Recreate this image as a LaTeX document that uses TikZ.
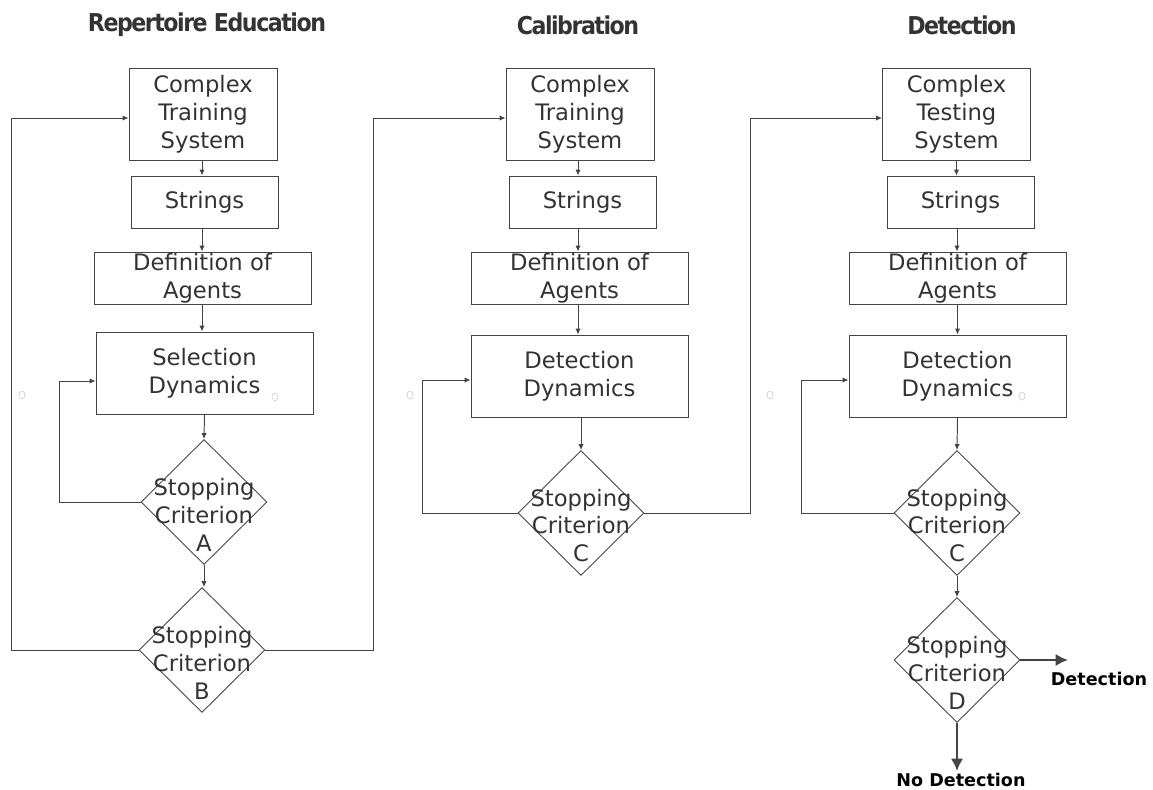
\documentclass[tikz,border=0pt]{standalone}
\usepackage{fontspec}
\setmainfont{DejaVu Sans}
\newfontfamily\titlefont{DejaVu Sans Condensed Bold}[LetterSpace=-6]
\usetikzlibrary{shapes.geometric,arrows.meta}
\definecolor{txtgray}{HTML}{333333}
\definecolor{linegray}{HTML}{444444}

\begin{document}
\begin{tikzpicture}[x=0.02cm, y=-0.02cm,
    every node/.style={text=txtgray, font=\fontsize{12.9}{15.9}\selectfont},
    box/.style={draw=linegray, line width=0.5pt, rectangle, align=center, inner sep=0pt},
    system/.style={box, minimum width=2.96cm, minimum height=1.84cm},
    strings/.style={box, minimum width=2.94cm, minimum height=1.04cm},
    agents/.style={box, minimum width=4.34cm, minimum height=1.04cm},
    dynamics/.style={box, minimum width=4.34cm, minimum height=1.64cm},
    crit/.style={diamond, draw=linegray, line width=0.5pt, minimum width=2.52cm, minimum height=2.5cm, inner sep=0pt,
        label={[align=center, yshift=-0.25cm]center:#1}},
    title/.style={font=\titlefont\fontsize{14}{16}\selectfont},
    outcome/.style={text=black, font=\bfseries\fontsize{10}{12}\selectfont},
    line/.style={draw=linegray, line width=0.55pt},
    arr/.style={line, -{Latex[length=3.4pt, width=3pt]}},
    bigarr/.style={draw=linegray, line width=1.6pt, -{Latex[length=7pt, width=7pt]}}]
    \useasboundingbox (0,0) rectangle (1153,789);

    % Repertoire Education
    \node[title] (t_rep) at (207,25) {Repertoire Education};
    \node[system] (train_rep) at (203,114) {Complex\\Training\\System};
    \node[strings] (strings_rep) at (204.5,202) {Strings};
    \node[agents] (agents_rep) at (202.5,278) {Definition of\\Agents};
    \node[dynamics] (dyn_rep) at (204.5,373) {Selection\\Dynamics};
    \node[crit={Stopping\\Criterion\\A}] (critA_rep) at (204,502) {};
    \node[crit={Stopping\\Criterion\\B}] (critB_rep) at (202,650) {};

    % Calibration
    \node[title] (t_cal) at (578,25) {Calibration};
    \node[system] (train_cal) at (580,114) {Complex\\Training\\System};
    \node[strings] (strings_cal) at (582.5,202) {Strings};
    \node[agents] (agents_cal) at (579.5,278) {Definition of\\Agents};
    \node[dynamics] (dyn_cal) at (579.5,376) {Detection\\Dynamics};
    \node[crit={Stopping\\Criterion\\C}] (critC_cal) at (581,513) {};

    % Detection
    \node[title] (t_det) at (962,25) {Detection};
    \node[system] (train_det) at (956.5,114) {Complex\\Testing\\System};
    \node[strings] (strings_det) at (960.5,202) {Strings};
    \node[agents] (agents_det) at (957.5,278) {Definition of\\Agents};
    \node[dynamics] (dyn_det) at (957.5,376) {Detection\\Dynamics};
    \node[crit={Stopping\\Criterion\\C}] (critC_det) at (957,513) {};
    \node[crit={Stopping\\Criterion\\D}] (critD_det) at (957,660) {};
    \coordinate (yes_end) at (1068,660);
    \coordinate (no_end) at (957,771);
    \node[outcome] (yes) at (1099,679) {Detection};
    \node[outcome] (no) at (961,780) {No Detection};

    % straight arrows
    \draw[arr] (train_rep.south -| 202,0) -- (strings_rep.north -| 202,0);
    \draw[arr] (strings_rep.south -| 202,0) -- (agents_rep.north -| 202,0);
    \draw[arr] (agents_rep.south -| 202,0) -- (dyn_rep.north -| 202,0);
    \draw[arr] (dyn_rep.south) -- (critA_rep.north);
    \draw[arr] (critA_rep.south) -- (critB_rep.north -| critA_rep.south);

    \draw[arr] (train_cal.south -| 578,0) -- (strings_cal.north -| 578,0);
    \draw[arr] (strings_cal.south -| 578,0) -- (agents_cal.north -| 578,0);
    \draw[arr] (agents_cal.south -| 578,0) -- (dyn_cal.north -| 578,0);
    \draw[arr] (dyn_cal.south -| critC_cal.north) -- (critC_cal.north);

    \draw[arr] (train_det.south) -- (strings_det.north -| train_det.south);
    \draw[arr] (strings_det.south -| 957,0) -- (agents_det.north -| 957,0);
    \draw[arr] (agents_det.south) -- (dyn_det.north);
    \draw[arr] (dyn_det.south) -- (critC_det.north);
    \draw[arr] (critC_det.south) -- (critD_det.north);

    % feedback loops
    \draw[arr] (critA_rep.west) -| (59,381) -- (dyn_rep.west |- 0,381);
    \draw[arr] (critB_rep.west) -| (11,118) -- (train_rep.west |- 0,118);
    \draw[arr] (critB_rep.east) -| (373,118) -- (train_cal.west |- 0,118);
    \draw[arr] (critC_cal.west) -| (422,380) -- (dyn_cal.west |- 0,380);
    \draw[arr] (critC_cal.east) -| (750,118) -- (train_det.west |- 0,118);
    \draw[arr] (critC_det.west) -| (801,380) -- (dyn_det.west |- 0,380);

    % outcomes
    \draw[bigarr] (critD_det.east) -- (yes_end);
    \draw[bigarr] (critD_det.south) -- (no_end);

    % connection marks
    \foreach \cx/\cy in {22/395, 275/397, 410/395, 770/395, 1022/396}
        \draw[gray!35, line width=0.4pt] (\cx,\cy) ellipse [x radius=0.06cm, y radius=0.08cm];
\end{tikzpicture}
\end{document}
